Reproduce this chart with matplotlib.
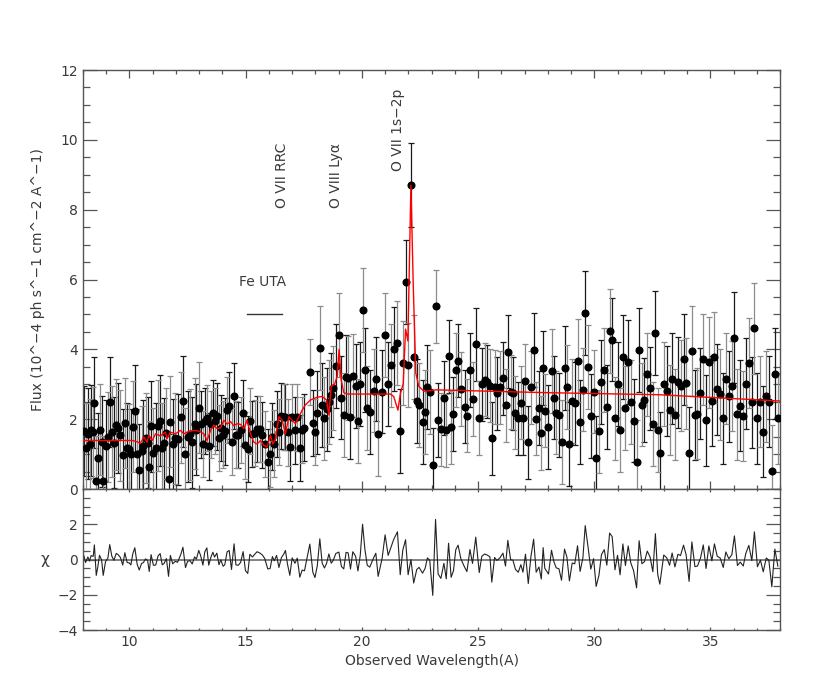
import numpy as np
import matplotlib
matplotlib.use("Agg")
import matplotlib.pyplot as plt
from matplotlib.ticker import MultipleLocator, FixedLocator

# ---------------- data ----------------
wave = [
    8.04, 8.11, 8.21, 8.28, 8.35, 8.44, 8.49, 8.57, 8.64, 8.71, 8.80, 8.87, 8.97, 9.07, 9.15,
    9.24, 9.33, 9.43, 9.51, 9.61, 9.71, 9.80, 9.90, 9.99, 10.06, 10.14, 10.23, 10.33, 10.42,
    10.52, 10.60, 10.69, 10.78, 10.85, 10.93, 11.03, 11.13, 11.23, 11.32, 11.41, 11.49, 11.59,
    11.68, 11.76, 11.86, 11.97, 12.07, 12.21, 12.30, 12.41, 12.50, 12.60, 12.70, 12.80, 12.88,
    12.98, 13.06, 13.16, 13.24, 13.33, 13.41, 13.51, 13.59, 13.66, 13.76, 13.85, 13.93, 14.03,
    14.10, 14.20, 14.29, 14.39, 14.50, 14.58, 14.68, 14.78, 14.89, 14.99, 15.09, 15.18, 15.29,
    15.39, 15.49, 15.61, 15.72, 15.82, 15.95, 16.05, 16.15, 16.23, 16.33, 16.43, 16.54, 16.64,
    16.71, 16.80, 16.90, 17.00, 17.12, 17.22, 17.33, 17.43, 17.53, 17.76, 17.89, 17.98,
    18.08, 18.19, 18.29, 18.39, 18.48, 18.58, 18.68, 18.76, 18.88, 19.01, 19.12, 19.22, 19.32,
    19.41, 19.51, 19.61, 19.73, 19.83, 19.93, 20.03, 20.13, 20.23, 20.34, 20.50, 20.60, 20.70,
    20.87, 21.00, 21.13, 21.25, 21.37, 21.53, 21.65, 21.76, 21.88, 21.99, 22.11, 22.23, 22.36,
    22.46, 22.61, 22.72, 22.82, 22.92,
    23.05, 23.17, 23.28, 23.40, 23.53, 23.63, 23.73, 23.84, 23.94, 24.04, 24.14, 24.26, 24.42,
    24.52, 24.65, 24.76, 24.90, 25.05, 25.16, 25.28, 25.39, 25.51, 25.59, 25.71, 25.81, 25.95,
    26.07, 26.18, 26.28, 26.40, 26.50, 26.61, 26.73, 26.84, 26.93, 27.04, 27.16, 27.27, 27.39,
    27.50, 27.62, 27.72, 27.80, 27.87,
    28.03, 28.16, 28.26, 28.36, 28.48, 28.59, 28.72, 28.82, 28.93, 29.05, 29.16, 29.28, 29.39,
    29.51, 29.61, 29.74, 29.85, 29.97, 30.08, 30.20, 30.31, 30.43, 30.54, 30.66, 30.77, 30.89,
    31.00, 31.11, 31.23, 31.34, 31.46, 31.57, 31.69, 31.82, 31.93, 32.05, 32.16, 32.28, 32.40,
    32.52, 32.63, 32.73, 32.82,
    32.99, 33.12, 33.24, 33.35, 33.47, 33.60, 33.71, 33.84, 33.95, 34.08, 34.20, 34.33, 34.44,
    34.57, 34.69, 34.81, 34.93, 35.06, 35.17, 35.29, 35.42, 35.55, 35.66, 35.79, 35.92, 36.03,
    36.16, 36.28, 36.41, 36.52, 36.65, 36.78, 36.89, 37.02, 37.15, 37.27, 37.40, 37.51, 37.64,
    37.77, 37.90,
]
flux = [
    1.66, 1.17, 1.58, 1.28, 1.68, 1.62, 2.47, 0.22, 0.88, 1.70, 1.36, 0.22, 1.24, 1.49, 2.49,
    1.64, 1.33, 1.84, 1.75, 1.54, 0.98, 1.89, 1.17, 1.14, 0.99, 1.79, 2.24, 1.00, 0.55,
    1.08, 1.24, 1.46, 1.33, 0.64, 1.80, 1.03, 1.17, 1.81, 1.96, 1.17, 1.31, 1.59,
    0.28, 1.93, 1.29, 1.45, 1.42, 2.05, 2.51, 1.01, 1.50, 1.57, 1.34, 1.87, 1.70,
    2.33, 1.85, 1.29, 1.94, 2.03, 1.22, 1.85, 2.18, 1.94, 2.08, 1.46, 1.75, 1.56,
    1.65, 2.27, 2.39, 1.36, 2.66, 1.56, 1.55, 1.69, 2.18, 1.25, 1.14, 1.94, 1.58,
    1.61, 1.71, 1.72, 1.55, 1.29, 0.76, 1.01, 1.50, 1.30, 1.87, 1.64, 2.10, 2.07,
    2.07, 1.62, 1.19, 2.06, 1.68, 2.05, 1.17, 1.69, 1.76, 3.36, 1.89, 1.63,
    2.19, 4.05, 2.41, 2.02, 2.28, 2.50, 2.69, 2.89, 3.52, 4.41, 2.62, 2.12, 3.22,
    3.17, 2.07, 3.25, 2.94, 1.94, 3.00, 5.12, 3.42, 2.33, 2.20, 2.82, 3.15, 1.57,
    2.79, 4.40, 3.00, 3.54, 4.02, 4.19, 1.66, 3.61, 5.93, 3.55, 8.70, 3.78, 2.52,
    2.40, 1.91, 2.20, 2.92, 2.77,
    0.69, 5.23, 1.98, 1.71, 2.61, 1.68, 3.80, 1.77, 2.15, 3.41, 3.68, 2.86, 2.36,
    2.10, 3.41, 2.58, 4.14, 2.03, 3.00, 3.13, 3.07, 2.96, 1.45, 2.92, 2.74, 2.91,
    3.17, 2.40, 3.93, 2.78, 2.74, 2.19, 2.02, 2.47, 2.02, 3.09, 1.34, 2.91, 3.98,
    2.01, 2.32, 1.60, 3.47, 2.24,
    1.77, 3.39, 2.62, 2.19, 2.12, 1.34, 3.46, 2.93, 1.29, 2.51, 2.45, 3.68, 1.93,
    2.85, 5.05, 3.49, 2.08, 2.79, 0.90, 1.65, 3.07, 3.40, 2.34, 4.53, 4.28, 2.02,
    3.01, 1.68, 3.78, 2.31, 3.64, 2.49, 1.96, 0.78, 3.99, 2.42, 2.56, 3.28, 2.88,
    1.87, 4.46, 1.68, 1.02,
    3.00, 2.81, 2.26, 3.16, 2.13, 3.06, 2.96, 3.72, 3.03, 1.04, 3.95, 2.12, 2.16,
    2.74, 3.71, 1.97, 3.63, 2.52, 3.77, 2.86, 2.71, 2.02, 3.16, 2.65, 2.95, 4.33,
    2.14, 2.39, 2.09, 3.02, 3.61, 2.48, 4.60, 2.02, 2.50, 1.64, 2.65, 2.50, 0.52,
    3.30, 2.03,
]
# typical 1-sigma error in wavelength bands
err_edges = [8.0, 13.0, 18.0, 23.0, 28.0, 33.0, 38.5]
err_level = [1.30, 0.95, 1.20, 1.05, 1.20, 1.30]

# best-fit model (red curve)
model_wave = [8.0, 10.12, 10.30, 10.47, 10.62, 10.76, 10.83, 10.98, 11.12, 11.33, 11.55, 11.62,
              11.76, 11.98, 12.19, 12.34, 12.48, 12.77, 12.98, 13.06, 13.20, 13.34, 13.49, 13.63,
              13.77, 13.92, 14.06, 14.20, 14.35, 14.49, 14.63, 14.78, 14.92, 15.06, 15.21, 15.35,
              15.49, 15.64, 15.78, 15.92, 16.07, 16.17, 16.28, 16.43, 16.57, 16.71, 16.86, 17.00,
              17.14, 17.29, 17.43, 17.57, 17.79, 18.08, 18.29, 18.48, 18.58, 18.68, 18.82, 18.94,
              19.02, 19.11, 19.22, 19.37, 21.23, 21.37, 21.55, 21.66, 21.78, 21.88, 21.98, 22.11,
              22.21, 22.32, 22.45, 22.67, 22.95, 23.2, 27.9, 32.8, 38.0]
model_flux = [1.39, 1.39, 1.36, 1.31, 1.49, 1.34, 1.54, 1.39, 1.58, 1.52, 1.63, 1.44,
              1.63, 1.58, 1.68, 1.58, 1.63, 1.68, 1.66, 1.63, 1.58, 1.39, 1.68, 1.83,
              1.73, 1.75, 1.97, 1.86, 1.93, 1.81, 1.87, 1.85, 1.73, 1.97, 1.58, 1.34,
              1.29, 1.39, 1.25, 1.20, 1.54, 1.29, 1.44, 2.07, 1.97, 1.58, 2.07, 1.97,
              1.87, 2.07, 2.26, 2.41, 2.55, 2.63, 2.65, 2.55, 2.12, 2.94, 2.99, 3.23,
              4.00, 3.13, 2.76, 2.72, 2.72, 2.65, 2.26, 2.74, 3.03, 4.58, 4.24, 8.70,
              5.84, 3.32, 2.94, 2.80, 2.82, 2.84, 2.76, 2.70, 2.52]

line_labels = ["O VII RRC", "O VIII Ly\u03b1", "O VII 1s\u22122p"]
line_pos = [16.55, 18.90, 21.56]
line_label_base = [8.05, 8.05, 9.10]

# ---------------- figure ----------------
n = min(len(wave), len(flux))
w = np.array(wave[:n])
f = np.array(flux[:n])
seg = np.clip(np.searchsorted(err_edges, w) - 1, 0, len(err_level) - 1)
e = np.array(err_level)[seg]
mw = np.array(model_wave)
mf = np.array(model_flux)
chi = (f - np.interp(w, mw, mf)) / e

txt = "#3a3a3a"
spine_c = "#555555"
fs = 10

fig = plt.figure(figsize=(8.3, 7.0), dpi=100)
ax1 = fig.add_axes([0.1, 0.3014, 0.84, 0.5986])
ax2 = fig.add_axes([0.1, 0.1, 0.84, 0.2014], sharex=ax1)

idx = np.arange(n)
for k, col in ((0, "#1a1a1a"), (1, "#8c8c8c")):
    m = idx % 2 == k
    ax1.errorbar(w[m], f[m], yerr=e[m], fmt="none", ecolor=col, elinewidth=0.9,
                 capsize=2.5, capthick=0.9, zorder=2)
ax1.plot(w, f, "o", color="black", ms=4.8, zorder=3)
ax1.plot(mw, mf, color="red", lw=1.0, zorder=4)

# annotations
ax1.plot([15.05, 16.55], [5.0, 5.0], color="#333333", lw=1.0)
ax1.text(15.73, 5.94, "Fe UTA", ha="center", va="center", fontsize=fs, color=txt)
for lab, xp, yb in zip(line_labels, line_pos, line_label_base):
    ax1.text(xp, yb, lab, rotation=90, ha="center", va="bottom", fontsize=fs, color=txt)

ax1.set_xlim(8, 38)
ax1.set_ylim(0, 12)
ax1.yaxis.set_major_locator(MultipleLocator(2))
ax1.yaxis.set_minor_locator(MultipleLocator(0.5))
ax1.xaxis.set_major_locator(MultipleLocator(5))
ax1.xaxis.set_minor_locator(MultipleLocator(1))
ax1.tick_params(axis="both", which="both", direction="in", top=True, right=True,
                labelbottom=False, colors=spine_c, labelcolor=txt, labelsize=fs)
ax1.tick_params(axis="y", which="major", length=10, width=0.9)
ax1.tick_params(axis="y", which="minor", length=5, width=0.9)
ax1.tick_params(axis="x", which="major", length=6, width=0.9)
ax1.tick_params(axis="x", which="minor", length=3, width=0.9)
ax1.set_ylabel("Flux (10^\u22124 ph s^\u22121 cm^\u22122 A^\u22121)", fontsize=fs, color=txt)
ax1.yaxis.set_label_coords(-0.055, 0.5)

# residuals
ax2.axhline(0, color="#777777", lw=1.3, zorder=1)
ax2.plot(w, chi, color="#222222", lw=0.8, zorder=2)
ax2.set_ylim(-4, 4)
ax2.yaxis.set_major_locator(FixedLocator([-4, -2, 0, 2]))
ax2.yaxis.set_minor_locator(MultipleLocator(0.5))
ax2.tick_params(axis="both", which="both", direction="in", top=True, right=True,
                colors=spine_c, labelcolor=txt, labelsize=fs)
ax2.tick_params(axis="y", which="major", length=10, width=0.9)
ax2.tick_params(axis="y", which="minor", length=5, width=0.9)
ax2.tick_params(axis="x", which="major", length=2.5, width=0.9)
ax2.tick_params(axis="x", which="minor", length=1.2, width=0.9)
ax2.set_ylabel("\u03c7", fontsize=fs + 1, color=txt, rotation=0, va="center", ha="center")
ax2.yaxis.set_label_coords(-0.055, 0.5)
ax2.set_xlabel("Observed Wavelength(A)", fontsize=fs, color=txt, labelpad=4)
ax1.set_xlim(8, 38)

for ax in (ax1, ax2):
    for s in ax.spines.values():
        s.set_color(spine_c)
        s.set_linewidth(1.0)

fig.savefig("out.png", dpi=100)
